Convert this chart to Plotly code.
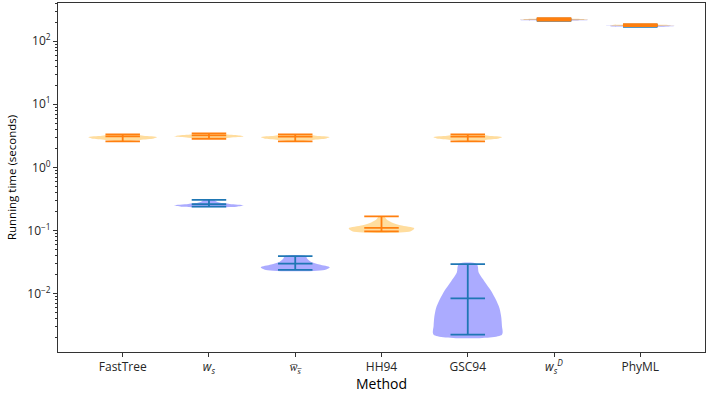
import numpy as np
import plotly.graph_objects as go

# ---------------- data ----------------
methods = ["FastTree", "w_s", "w_s_bar", "HH94", "GSC94", "w_s^D", "PhyML"]
tick_labels = [
    "FastTree",
    "<i>w</i><sub><i>s</i></sub>",
    "<i>w\u0305</i><sub><i>s\u0305</i></sub>",
    "HH94",
    "GSC94",
    "<i>w</i><sub><i>s</i></sub><sup><i>D</i></sup>",
    "PhyML",
]

orange_min = [2.59, 2.84, 2.59, 0.097, 2.59, 212, 173]
orange_median = [3.10, 3.22, 3.08, 0.110, 3.08, 222, 180]
orange_max = [3.34, 3.46, 3.34, 0.167, 3.34, 232, 186]
# relative density profile, from min (first) to max (last), evenly spaced in log(y)
orange_density = [
    [0.10, 0.50, 0.90, 1.00, 0.60, 0.20],
    [0.20, 0.60, 1.00, 0.90, 0.50, 0.20],
    [0.10, 0.50, 0.90, 1.00, 0.60, 0.20],
    [0.85, 0.95, 0.55, 0.30, 0.15, 0.08],
    [0.10, 0.50, 0.90, 1.00, 0.60, 0.20],
    [0.20, 0.80, 1.00, 0.80, 0.40, 0.10],
    [0.20, 0.80, 1.00, 0.80, 0.40, 0.10],
]

blue_min = [None, 0.238, 0.0237, None, 0.00224, 210, 168]
blue_median = [None, 0.262, 0.0298, None, 0.0084, 218, 176]
blue_max = [None, 0.306, 0.0393, None, 0.0294, 228, 182]
blue_density = [
    None,
    [0.80, 1.00, 0.60, 0.30, 0.20, 0.15],
    [0.85, 1.00, 0.70, 0.45, 0.35, 0.30],
    None,
    [0.99, 0.99, 0.97, 0.92, 0.81, 0.67, 0.49, 0.32, 0.26],
    [0.20, 0.80, 1.00, 0.80, 0.40, 0.10],
    [0.20, 0.80, 1.00, 0.80, 0.40, 0.10],
]

y_tick_vals = [0.01, 0.1, 1, 10, 100]
y_tick_text = ["10<sup>−2</sup>", "10<sup>−1</sup>", "10<sup>0</sup>", "10<sup>1</sup>", "10<sup>2</sup>"]

# ---------------- style ----------------
HALF_W = 0.4     # max half-width of violin body (x units)
CAP_W = 0.2      # half-length of caps
FONT = "Open Sans"
TXT = "#262626"

fig = go.Figure()


def add_violins(mins, meds, maxs, dens, fill, line):
    for i, (lo, md, hi, d) in enumerate(zip(mins, meds, maxs, dens)):
        if lo is None:
            continue
        d = np.array(d)
        ys = np.logspace(np.log10(lo), np.log10(hi), len(d))
        xs = np.concatenate([i + d * HALF_W, (i - d * HALF_W)[::-1]])
        yy = np.concatenate([ys, ys[::-1]])
        fig.add_trace(go.Scatter(
            x=list(xs) + [xs[0]], y=list(yy) + [yy[0]], mode="lines",
            fill="toself", fillcolor=fill, line=dict(width=0, shape="spline", smoothing=0.8),
            hoverinfo="skip", showlegend=False))
    for i, (lo, md, hi) in enumerate(zip(mins, meds, maxs)):
        if lo is None:
            continue
        lx, ly = [], []
        for v in (lo, md, hi):
            lx += [i - CAP_W, i + CAP_W, None]
            ly += [v, v, None]
        lx += [i, i, None]
        ly += [lo, hi, None]
        fig.add_trace(go.Scatter(x=lx, y=ly, mode="lines", line=dict(color=line, width=1.8),
                                 hoverinfo="skip", showlegend=False))


add_violins(blue_min, blue_median, blue_max, blue_density, "rgba(0,0,255,0.33)", "#1f77b4")
add_violins(orange_min, orange_median, orange_max, orange_density, "rgba(255,165,0,0.38)", "#ff7f0e")

minor_vals = []
for e in range(-3, 3):
    for k in range(2, 10):
        minor_vals.append(k * 10.0 ** e)

fig.update_layout(
    width=708, height=393,
    margin=dict(l=58, r=3, t=2, b=40),
    paper_bgcolor="white", plot_bgcolor="white",
    font=dict(family=FONT, size=12, color=TXT),
    xaxis=dict(
        range=[-0.75, 6.75], tickmode="array", tickvals=list(range(len(methods))),
        ticktext=tick_labels, showgrid=False, zeroline=False,
        showline=True, linecolor="#333", linewidth=1, mirror=True,
        ticks="outside", ticklen=4, tickcolor="#333",
        tickfont=dict(family=FONT, size=12, color=TXT),
        title=dict(text="Method", font=dict(family=FONT, size=14, color="black"), standoff=5),
    ),
    yaxis=dict(
        type="log", range=[-2.925, 2.604], tickmode="array",
        tickvals=y_tick_vals, ticktext=y_tick_text, showgrid=False, zeroline=False,
        showline=True, linecolor="#333", linewidth=1, mirror=True,
        ticks="outside", ticklen=4, tickcolor="#333",
        tickfont=dict(family=FONT, size=12, color=TXT),
        minor=dict(tickmode="array", tickvals=minor_vals, ticks="outside", ticklen=2,
                   tickcolor="#333", showgrid=False),
        title=dict(text="Running time (seconds)", font=dict(family=FONT, size=11.5, color="black"), standoff=8),
    ),
)

fig.write_html("out.html", config={"displayModeBar": False},
               post_script="document.body.style.margin='0';")
